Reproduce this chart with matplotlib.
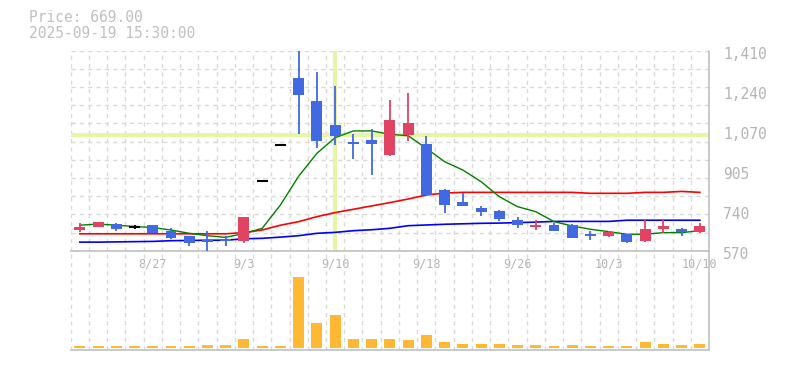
import numpy as np
import matplotlib
matplotlib.use("Agg")
import matplotlib.pyplot as plt
import matplotlib.transforms as mtrans

# daily candles, 2025-08-21 .. 2025-10-10
dates = ["8/21", "8/22", "8/25", "8/26", "8/27", "8/28", "8/29", "9/1", "9/2", "9/3",
         "9/4", "9/5", "9/8", "9/9", "9/10", "9/11", "9/12", "9/16", "9/17", "9/18",
         "9/19", "9/22", "9/24", "9/25", "9/26", "9/29", "9/30", "10/1", "10/2", "10/3",
         "10/6", "10/7", "10/8", "10/9", "10/10"]
opens = [657, 671, 683, 671, 678, 653, 632, 615, 620, 611,
         861, 1013, 1295, 1199, 1098, 1027, 1035, 972, 1056, 1018,
         824, 775, 751, 737, 699, 671, 678, 678, 641, 633,
         640, 611, 661, 661, 649]
highs = [686, 692, 686, 678, 679, 664, 632, 653, 632, 712,
         861, 1013, 1410, 1320, 1262, 1060, 1081, 1203, 1232, 1052,
         829, 812, 758, 741, 711, 699, 688, 683, 654, 654,
         641, 699, 699, 665, 686]
lows = [649, 670, 653, 663, 645, 619, 591, 570, 591, 604,
        861, 1013, 1060, 1001, 1014, 955, 888, 968, 1032, 804,
        730, 759, 717, 696, 667, 658, 653, 624, 616, 629,
        604, 606, 644, 633, 644]
closes = [669.5, 690, 662, 671, 646, 625, 604, 608, 612, 711,
          861, 1013, 1225, 1032, 1052, 1019, 1019, 1119, 1106, 804,
          763, 759, 732, 704, 679, 678, 654, 625, 633, 650,
          608, 661, 674, 649, 674]
volumes = [20, 20, 20, 20, 20, 20, 20, 30, 30, 90,
           20, 20, 713, 253, 333, 90, 90, 90, 80, 130,
           60, 40, 40, 40, 30, 30, 20, 30, 20, 20,
           20, 60, 40, 30, 40]

# moving averages as drawn
ma_short = [677, 682, 677, 672, 667, 657, 643, 633, 626, 642,
            664, 762, 883, 979, 1045, 1073, 1073, 1059, 1053, 1000,
            944, 909, 860, 797, 755, 734, 692, 674, 660, 650,
            639, 639, 646, 646, 654]
ma_mid = [641, 641, 641, 641, 641, 641, 641, 641, 641, 646,
          657, 677, 692, 713, 730, 744, 758, 772, 787, 804,
          812, 815, 815, 815, 815, 815, 815, 815, 811, 811,
          811, 815, 815, 819, 815]
ma_long = [606, 606, 607, 608, 609, 612, 613, 614, 614, 620,
           622, 627, 633, 643, 647, 654, 658, 664, 675, 678,
           681, 683, 685, 686, 688, 690, 693, 693, 693, 693,
           698, 698, 698, 698, 698]

date_ticks = [4, 9, 14, 19, 24, 29, 34]
price_ticks = np.linspace(570, 1410, 6)
price_labels = ["570", "740", "905", "1,070", "1,240", "1,410"]

UP = "#e04462"
DOWN = "#4169e1"
GRID = "#d9d9d9"
TXT = "#b4b4b4"
CROSS = "#e6f5a6"

W, H = 785, 370
fig = plt.figure(figsize=(W / 100, H / 100), dpi=100)
ax = fig.add_axes([70.7 / W, 1 - 250.7 / H, 638.3 / W, 200 / H])
axv = fig.add_axes([70.7 / W, 1 - 350 / H, 638.3 / W, 99 / H])

n = len(dates)
x = np.arange(n)
for a in (ax, axv):
    a.set_xlim(-0.5, n - 0.5)
    a.patch.set_alpha(0)
    for s in ("left", "top"):
        a.spines[s].set_visible(False)
    for s in ("right", "bottom"):
        a.spines[s].set_color("#c0c0c0")
        a.spines[s].set_linewidth(1.2)
    for gx in np.arange(-0.5, n - 0.5, 1.0):
        a.axvline(gx, color=GRID, lw=1, ls=(0, (3, 3)), zorder=0)

ax.set_ylim(570, 1410)
for gy in np.linspace(570, 1410, 12)[1:]:
    ax.axhline(gy, color=GRID, lw=1, ls=(0, (3, 3)), zorder=0)

# crosshair
ax.axhline(1056, color=CROSS, lw=3, zorder=1)
ax.axvline(14, ymin=0.01, ymax=0.995, color=CROSS, lw=3, zorder=1)

# moving averages
ax.plot(x, ma_long, color="#0000ff", lw=1.2, zorder=2)
ax.plot(x, ma_mid, color="#ff0000", lw=1.2, zorder=2)
ax.plot(x, ma_short, color="#008000", lw=1.0, zorder=2)

# candles
bw = 0.6
for i in range(n):
    o, h, l, c = opens[i], highs[i], lows[i], closes[i]
    if c > o:
        col = UP
    elif c < o:
        col = DOWN
    else:
        col = "black"
    ax.vlines(i, l, h, color=col, lw=1.3, zorder=3)
    if c == o:
        ax.hlines(c, i - bw / 2, i + bw / 2, color=col, lw=1.5, zorder=3)
    else:
        ax.bar(i, abs(c - o), bottom=min(o, c), width=bw, color=col, zorder=3)

ax.yaxis.tick_right()
ax.set_yticks(price_ticks)
ax.set_yticklabels(price_labels, family="DejaVu Sans Mono", fontsize=10.5, color=TXT)
ax.tick_params(axis="y", length=0, pad=10)
off = mtrans.ScaledTranslation(0, -2 / 100, fig.dpi_scale_trans)
for lab in ax.get_yticklabels():
    lab.set_transform(lab.get_transform() + off)

ax.set_xticks(date_ticks)
ax.set_xticklabels([dates[i] for i in date_ticks], family="DejaVu Sans Mono",
                   fontsize=8.5, color=TXT)
ax.tick_params(axis="x", length=0, pad=5)

# volume
axv.set_ylim(-20, 970)
axv.bar(x, volumes, width=bw, color="#ffb833", zorder=3)
axv.set_yticks([])
axv.set_xticks([])

fig.text(29 / W, 1 - 18 / H, "Price: 669.00", family="DejaVu Sans Mono",
         fontsize=10.5, color="#c0c0c0", va="center")
fig.text(29 / W, 1 - 33 / H, "2025-09-19 15:30:00", family="DejaVu Sans Mono",
         fontsize=10.5, color="#c0c0c0", va="center")

fig.savefig("out.png", dpi=100)
